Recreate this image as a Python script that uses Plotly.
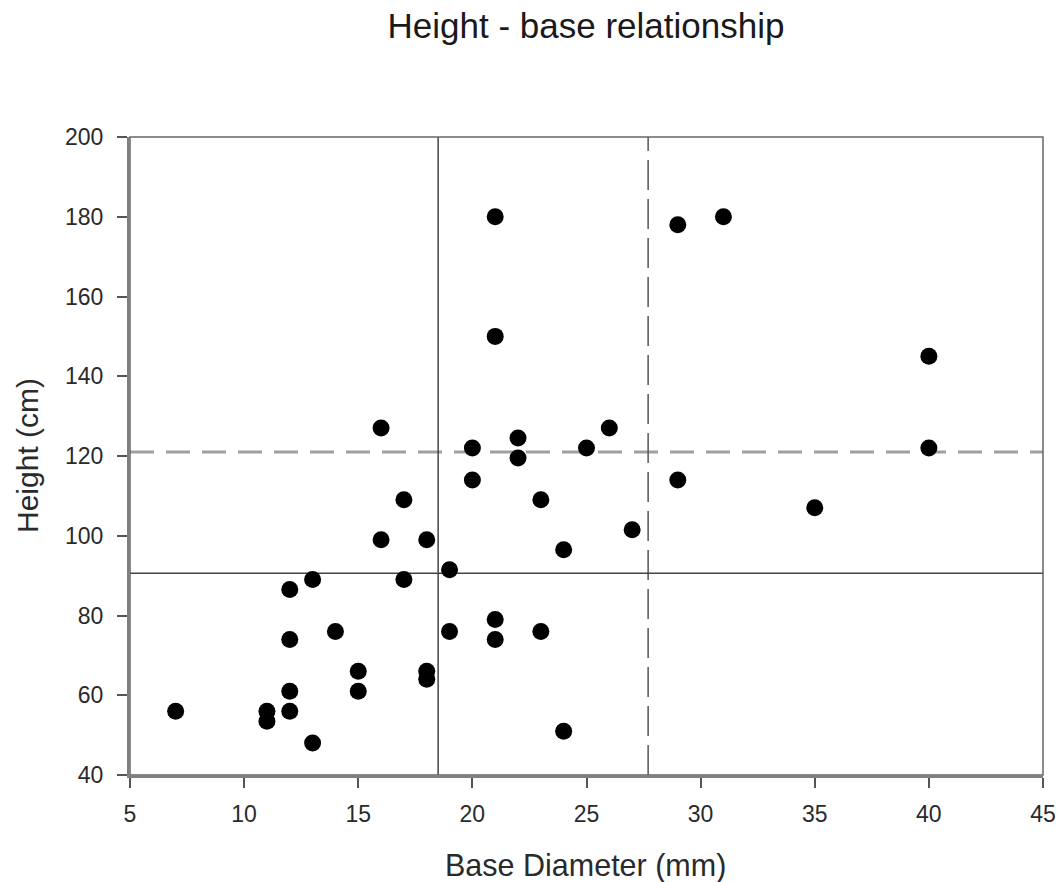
import plotly.graph_objects as go

base_diameter = [7, 11, 11, 12, 12, 12, 12, 13, 13, 14, 15, 15, 16, 16, 17, 17,
                 18, 18, 18, 19, 19, 20, 20, 21, 21, 21, 21, 22, 22, 23, 23,
                 24, 24, 25, 26, 27, 29, 29, 31, 35, 40, 40]
height = [56, 56, 53.5, 56, 61, 74, 86.5, 89, 48, 76, 66, 61, 127, 99, 109, 89,
          99, 66, 64, 91.5, 76, 122, 114, 180, 150, 79, 74, 124.5, 119.5, 109, 76,
          96.5, 51, 122, 127, 101.5, 178, 114, 180, 107, 145, 122]

mean_diameter = 18.5
mean_height = 90.6
upper_diameter = 27.7
upper_height = 121

x_ticks = [5, 10, 15, 20, 25, 30, 35, 40, 45]
y_ticks = [40, 60, 80, 100, 120, 140, 160, 180, 200]

FONT = "Liberation Sans, Arial, sans-serif"
W, H = 1058, 882
L, R, T, B = 130, 15, 137, 107

fig = go.Figure()
fig.add_trace(go.Scatter(
    x=base_diameter, y=height, mode="markers",
    marker=dict(color="black", size=17, line=dict(width=0)),
    showlegend=False, cliponaxis=False,
))

fig.add_hline(y=upper_height, line=dict(color="#a0a0a0", width=3, dash="24px,12px"), layer="below")
fig.add_vline(x=upper_diameter, line=dict(color="#555555", width=1.5, dash="30px,9px"), layer="below")
fig.add_hline(y=mean_height, line=dict(color="#444444", width=1.5), layer="below")
fig.add_vline(x=mean_diameter, line=dict(color="#444444", width=1.5), layer="below")

axis_common = dict(
    showgrid=False, zeroline=False, ticks="outside", ticklen=10, tickwidth=1.5,
    tickcolor="#555555", showline=True, linecolor="#808080", linewidth=3,
    mirror=False, automargin=False,
    tickfont=dict(family=FONT, size=23, color="#2a2a2a"),
)

fig.update_xaxes(range=[5, 45], tickvals=x_ticks, ticktext=[str(v) for v in x_ticks],
                 ticklabelstandoff=6, **axis_common)
fig.update_yaxes(range=[40, 200], tickvals=y_ticks, ticktext=[str(v) for v in y_ticks],
                 ticklabelstandoff=9, **axis_common)

# top and right borders of the frame
fig.add_shape(type="rect", xref="paper", yref="paper", x0=0, y0=0, x1=1, y1=1,
              line=dict(color="#666666", width=1.5), layer="below")

plot_h = H - T - B
fig.add_annotation(text="Base Diameter (mm)", xref="paper", yref="paper",
                   x=(585.5 - L) / (W - L - R), y=0, xanchor="center", yanchor="middle",
                   yshift=-(865 - (H - B)),
                   showarrow=False, font=dict(family=FONT, size=30.5, color="#2a2a2a"))
fig.add_annotation(text="Height (cm)", xref="paper", yref="paper",
                   x=0, y=((H - B) - 456) / plot_h, xanchor="center", yanchor="middle",
                   xshift=-(L - 27), textangle=-90,
                   showarrow=False, font=dict(family=FONT, size=30, color="#2a2a2a"))

fig.update_layout(
    width=W, height=H,
    paper_bgcolor="white", plot_bgcolor="white",
    margin=dict(l=L, r=R, t=T, b=B),
    title=dict(text="Height - base relationship", x=586 / W, xanchor="center",
               y=1 - 26 / H, yanchor="middle",
               font=dict(family=FONT, size=35, color="#1a1a1a")),
)

fig.write_html("out.html", config={"displayModeBar": False},
               post_script="document.body.style.margin='0';document.body.style.overflow='hidden';")
